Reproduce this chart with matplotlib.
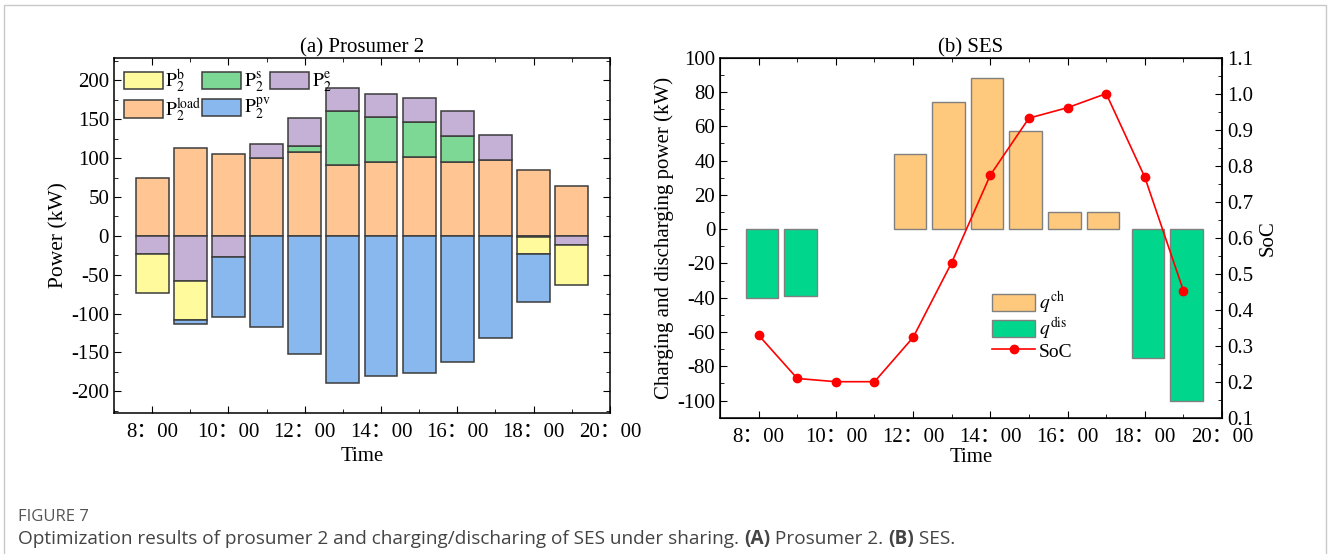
import matplotlib
matplotlib.use("Agg")
import matplotlib.pyplot as plt
import numpy as np
from matplotlib.patches import Rectangle
from matplotlib.ticker import MultipleLocator

plt.rcParams['font.family'] = ['Liberation Serif', 'Noto Sans CJK SC']
plt.rcParams['mathtext.fontset'] = 'stix'
plt.rcParams['axes.unicode_minus'] = False

# hours of the day
hours = np.arange(8, 20)
tick_hours = [8, 10, 12, 14, 16, 18, 20]
tick_labels = ['%d：00' % h for h in tick_hours]

# (a) prosumer 2 power (kW)
p_load = np.array([74, 113, 105, 100, 108, 91, 95, 101, 95, 98, 85, 64])
p_s = np.array([0, 0, 0, 0, 7, 70, 58, 46, 33, 0, 0, 0])
p_e = np.array([-23, -58, -27, 18, 37, 29, 29, 30, 33, 32, -1, -12])
p_b = np.array([-50, -50, 0, 0, 0, 0, 0, 0, 0, 0, -22, -51])
p_pv = np.array([0, -5, -77, -117, -152, -190, -181, -177, -162, -131, -62, 0])

# (b) SES charging / discharging (kW) and state of charge
q_ch = np.array([0, 0, 0, 0, 44, 74, 88, 57, 10, 10, 0, 0])
q_dis = np.array([-40, -39, 0, 0, 0, 0, 0, 0, 0, 0, -75, -100])
soc = np.array([0.329, 0.209, 0.2, 0.2, 0.323, 0.531, 0.774, 0.932, 0.961, 1.0, 0.768, 0.453])

c_b, c_s, c_e = '#FFFA9B', '#7DD896', '#C6B1D6'
c_load, c_pv = '#FFC593', '#89B8EE'
c_ch, c_dis = '#FEC97C', '#00D68C'

FS = 15

fig = plt.figure(figsize=(13.28, 5.54), dpi=100)
ax1 = fig.add_axes([0.0858, 0.2545, 0.3735, 0.641])
ax2 = fig.add_axes([0.5422, 0.246, 0.378, 0.650])


def stacked(ax, vals, bottom, color, w=0.86):
    m = vals != 0
    ax.bar(hours[m], vals[m], w, bottom=bottom[m], color=color,
           edgecolor='#3c3c3c', linewidth=1.1)


zero = np.zeros(len(hours))
e_pos = np.where(p_e > 0, p_e, 0)
e_neg = np.where(p_e < 0, p_e, 0)

stacked(ax1, p_load, zero, c_load)
stacked(ax1, p_s, p_load, c_s)
stacked(ax1, e_pos, p_load + p_s, c_e)
stacked(ax1, e_neg, zero, c_e)
stacked(ax1, p_b, e_neg, c_b)
stacked(ax1, p_pv, e_neg + p_b, c_pv)

# legend handles, filled column by column
names = [r'$\mathrm{P}_2^{\mathrm{b}}$', r'$\mathrm{P}_2^{\mathrm{load}}$',
         r'$\mathrm{P}_2^{\mathrm{s}}$', r'$\mathrm{P}_2^{\mathrm{pv}}$',
         r'$\mathrm{P}_2^{\mathrm{e}}$']
cols = [c_b, c_load, c_s, c_pv, c_e]
handles = [Rectangle((0, 0), 1, 1, facecolor=c, edgecolor='#3c3c3c', linewidth=1.1)
           for c in cols]
ax1.legend(handles, names, ncol=3, loc='upper left', frameon=False,
           fontsize=14, handlelength=2.0, handleheight=1.0,
           handletextpad=0.15, columnspacing=0.0, labelspacing=0.05,
           borderaxespad=0.1, bbox_to_anchor=(0.0, 1.0))

ax1.set_xlim(7, 20)
ax1.set_ylim(-228, 229)
ax1.yaxis.set_major_locator(MultipleLocator(50))
ax1.yaxis.set_minor_locator(MultipleLocator(25))
ax1.set_title('(a) Prosumer 2', fontsize=FS, pad=3)
ax1.set_ylabel('Power (kW)', fontsize=FS + 0.5, labelpad=2)

# (b) SES bars, charging left of the hour and discharging right of it
m = q_ch != 0
ax2.bar(hours[m] - 0.085, q_ch[m], 0.84, color=c_ch, edgecolor='#808080',
        linewidth=1, label=r'$q^{\mathrm{ch}}$')
m = q_dis != 0
ax2.bar(hours[m] + 0.085, q_dis[m], 0.84, color=c_dis, edgecolor='#808080',
        linewidth=1, label=r'$q^{\mathrm{dis}}$')
ax2.set_xlim(7, 20)
ax2.set_ylim(-110, 100)
ax2.yaxis.set_major_locator(MultipleLocator(20))
ax2.yaxis.set_minor_locator(MultipleLocator(10))
ax2.set_title('(b) SES', fontsize=FS, pad=3)
ax2.set_ylabel('Charging and discharging power (kW)', fontsize=FS, labelpad=2)

ax3 = ax2.twinx()
ax3.plot(hours, soc, color='#FF0000', marker='o', markersize=6, linewidth=1.2,
         label='SoC')
ax3.set_ylim(0.1, 1.1)
ax3.yaxis.set_major_locator(MultipleLocator(0.1))
ax3.yaxis.set_minor_locator(MultipleLocator(0.05))
ax3.set_ylabel('SoC', fontsize=FS, labelpad=4)
ax3.tick_params(axis='y', which='both', direction='in', labelsize=FS)
ax3.tick_params(axis='y', which='major', length=5)
ax3.tick_params(axis='y', which='minor', length=3)

h2, l2 = ax2.get_legend_handles_labels()
h3, l3 = ax3.get_legend_handles_labels()
ax3.legend(h2 + h3, l2 + l3, loc='upper left', bbox_to_anchor=(0.527, 0.378),
           frameon=False, fontsize=14, handlelength=2.2, handleheight=1.0,
           handletextpad=0.2, labelspacing=0.0, borderaxespad=0)

for ax in (ax1, ax2):
    ax.set_xticks(tick_hours)
    ax.set_xticklabels(tick_labels)
    ax.xaxis.set_minor_locator(MultipleLocator(1))
    ax.set_xlabel('Time', fontsize=FS, labelpad=1)
    ax.tick_params(which='both', direction='in', top=True, labelsize=FS)
    ax.tick_params(axis='x', which='major', pad=7)
    ax.tick_params(which='major', length=5)
    ax.tick_params(which='minor', length=3)
    for sp in ax.spines.values():
        sp.set_linewidth(1.1)
ax1.xaxis.labelpad = 4
ax1.tick_params(which='both', right=True)
ax3.spines['right'].set_linewidth(1.1)

# outer frame and caption
fig.add_artist(Rectangle((4 / 1328, -0.02), 1322 / 1328, 1 - 5 / 554 + 0.02,
                         transform=fig.transFigure, fill=False,
                         edgecolor='#c8c8c8', linewidth=1))
fig.text(18 / 1328, 1 - 517 / 554, 'FIGURE 7', family='Open Sans', fontsize=12,
         color='#555555', va='center')

parts = [('Optimization results of prosumer 2 and charging/discharing of SES under sharing. ', 'normal'),
         ('(A)', 'bold'), (' Prosumer 2. ', 'normal'), ('(B)', 'bold'), (' SES.', 'normal')]
fig.canvas.draw()
renderer = fig.canvas.get_renderer()
x = 18
for txt, wt in parts:
    t = fig.text(x / 1328, 1 - 539 / 554, txt, family='Open Sans', fontsize=13.7,
                 color='#444444', weight=wt, va='center')
    x += t.get_window_extent(renderer).width

fig.savefig('out.png', dpi=100)
